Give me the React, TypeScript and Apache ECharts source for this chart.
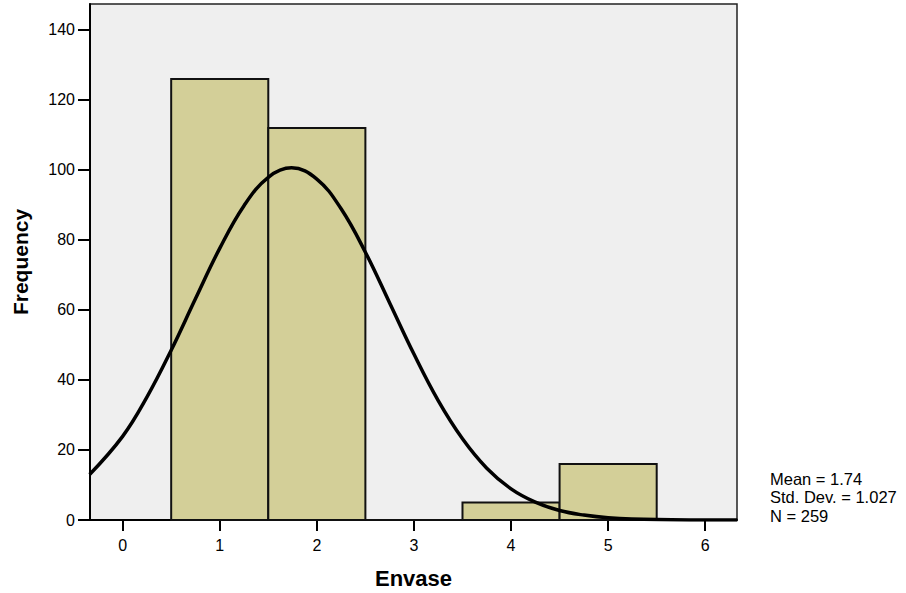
import React, { useEffect, useRef } from "react";
import * as echarts from "echarts";

// Histogram bins: [start, end, frequency]
const binStarts = [0.5, 1.5, 2.5, 3.5, 4.5];
const binEnds = [1.5, 2.5, 3.5, 4.5, 5.5];
const frequencies = [126, 112, 0, 5, 16];

// Fitted normal curve
const curveX = [-0.34, 0, 0.25, 0.5, 0.75, 1, 1.25, 1.5, 1.74, 2, 2.25, 2.5, 2.75, 3, 3.25, 3.5, 3.75, 4, 4.25, 4.5, 4.75, 5, 5.5, 6, 6.33];
const curveY = [13.0, 23.9, 35.1, 48.5, 63.2, 77.6, 89.8, 97.9, 100.6, 97.4, 88.9, 76.5, 62.0, 47.4, 34.1, 23.2, 14.8, 8.9, 5.1, 2.7, 1.4, 0.65, 0.12, 0.02, 0.0];

const xTicks = [0, 1, 2, 3, 4, 5, 6];
const yTicks = [0, 20, 40, 60, 80, 100, 120, 140];
const statsLines = ["Mean = 1.74", "Std. Dev. = 1.027", "N = 259"];

const FONT = "'Liberation Sans', Arial, sans-serif";

export default function App() {
  const ref = useRef<HTMLDivElement>(null);
  useEffect(() => {
    if (!ref.current) return;
    const chart = echarts.init(ref.current, null, { renderer: "svg" });
    const bins = binStarts.map((s, i) => [s, binEnds[i], frequencies[i]]);
    const curve = curveX.map((x, i) => [x, curveY[i]]);
    chart.setOption({
      animation: false,
      backgroundColor: "#ffffff",
      textStyle: { fontFamily: FONT },
      grid: {
        left: 90,
        top: 4,
        right: 169,
        bottom: 73,
        containLabel: false,
        outerBoundsMode: "none",
        show: true,
        backgroundColor: "#efefef",
        borderColor: "#222",
        borderWidth: 1.5,
      },
      xAxis: {
        type: "value",
        min: -0.336,
        max: 6.327,
        name: "Envase",
        nameLocation: "middle",
        nameGap: 47,
        nameTextStyle: { fontFamily: FONT, fontSize: 22, fontWeight: "bold", color: "#000" },
        axisLine: { show: true, onZero: false, lineStyle: { color: "#000", width: 2 } },
        axisTick: { show: true, length: 11, customValues: xTicks, lineStyle: { color: "#000", width: 2 } },
        axisLabel: { customValues: xTicks, fontFamily: FONT, fontSize: 16, color: "#000", margin: 17 },
        splitLine: { show: false },
      },
      yAxis: {
        type: "value",
        min: 0,
        max: 147.4,
        name: "Frequency",
        nameLocation: "middle",
        nameGap: 59,
        nameRotate: 90,
        nameTextStyle: { fontFamily: FONT, fontSize: 21, fontWeight: "bold", color: "#000" },
        axisLine: { show: true, onZero: false, lineStyle: { color: "#000", width: 2 } },
        axisTick: { show: true, length: 12, customValues: yTicks, lineStyle: { color: "#000", width: 2 } },
        axisLabel: { customValues: yTicks, fontFamily: FONT, fontSize: 16, color: "#000", margin: 15 },
        splitLine: { show: false },
      },
      series: [
        {
          type: "custom",
          data: bins,
          encode: { x: [0, 1], y: 2 },
          z: 2,
          renderItem: (params: any, api: any) => {
            const p0 = api.coord([api.value(0), api.value(2)]);
            const p1 = api.coord([api.value(1), 0]);
            return {
              type: "rect",
              shape: { x: p0[0], y: p0[1], width: p1[0] - p0[0], height: p1[1] - p0[1] },
              style: { fill: "#d3cf98", stroke: "#111", lineWidth: 2 },
            };
          },
        },
        {
          type: "line",
          data: curve,
          smooth: 0.4,
          symbol: "none",
          z: 3,
          clip: true,
          lineStyle: { color: "#000", width: 3.5 },
        },
      ],
      graphic: statsLines.map((t, i) => ({
        type: "text",
        left: 770,
        top: 470 + i * 18.5,
        style: { text: t, fontFamily: FONT, fontSize: 16.5, fill: "#000" },
      })),
    });
    return () => chart.dispose();
  }, []);
  return <div ref={ref} style={{ width: 906, height: 593, position: "absolute", left: 0, top: 0 }} />;
}
